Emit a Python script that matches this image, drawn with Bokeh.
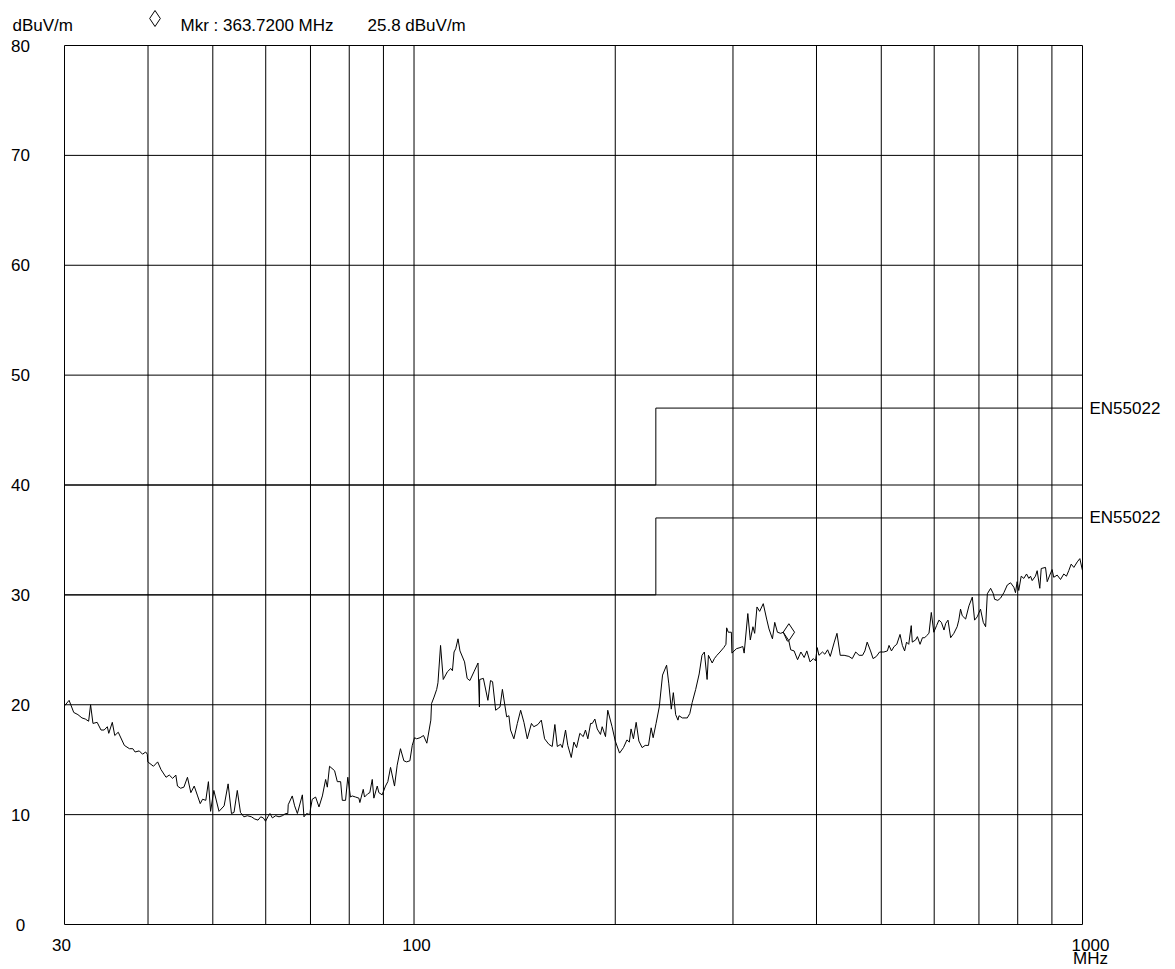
import math
from bokeh.plotting import figure
from bokeh.models import Label, ColumnDataSource
from bokeh.transform import dodge
from bokeh.embed import file_html
from bokeh.resources import INLINE

# ---------------- data ----------------
freq_mhz = [
    30.00, 30.48, 30.97, 31.42, 31.86, 32.23, 32.60, 32.82, 33.09, 33.57,
    34.02, 34.39, 34.77, 34.94, 35.37, 35.67, 36.10, 36.87, 37.52, 37.96,
    38.26, 38.81, 39.25, 39.68, 39.90, 39.97, 40.76, 41.35, 41.83, 42.56,
    43.04, 43.54, 44.02, 44.27, 44.75, 45.26, 45.82, 46.36, 46.90, 47.45,
    47.88, 48.27, 48.81, 49.25, 49.62, 50.18, 51.08, 51.99, 52.71, 53.32,
    53.79, 54.40, 55.00, 55.65, 56.33, 57.12, 57.78, 58.43, 58.97, 59.50,
    59.96, 60.45, 60.88, 61.39, 62.10, 62.81, 63.54, 64.25, 64.74, 64.83,
    65.74, 66.28, 66.91, 68.07, 68.45, 69.07, 69.84, 70.00, 70.43, 71.25,
    72.08, 72.93, 73.75, 74.18, 74.75, 76.06, 76.78, 77.66, 78.11, 78.99,
    79.60, 80.34, 80.82, 81.76, 82.70, 82.98, 83.95, 84.32, 85.27, 85.87,
    86.60, 87.08, 88.10, 88.59, 89.61, 90.64, 91.37, 92.23, 93.50, 94.36,
    95.44, 96.56, 97.47, 98.58, 99.39, 100.18, 100.90, 102.09, 103.32, 104.51,
    105.96, 106.21, 107.15, 108.12, 108.59, 109.57, 110.59, 112.17, 113.48, 114.15,
    114.78, 115.45, 116.36, 117.15, 119.01, 120.08, 121.21, 122.93, 124.66, 125.26,
    125.39, 126.98, 128.97, 130.14, 131.07, 132.47, 134.47, 135.58, 137.58, 138.65,
    139.44, 141.04, 142.74, 144.38, 146.02, 147.71, 149.85, 151.07, 153.21, 155.03,
    156.79, 159.09, 160.97, 162.44, 163.81, 165.68, 166.65, 168.52, 169.83, 171.87,
    173.43, 175.06, 177.04, 179.10, 180.51, 181.97, 183.69, 184.78, 186.43, 187.96,
    190.07, 191.19, 193.38, 194.90, 197.81, 200.00, 202.98, 205.74, 208.21, 209.92,
    211.19, 212.91, 214.93, 216.94, 219.40, 221.70, 224.25, 226.33, 227.88, 230.19,
    232.74, 235.37, 238.69, 240.51, 242.57, 244.29, 246.26, 248.24, 249.10, 252.01,
    256.30, 258.54, 260.67, 263.85, 267.02, 269.62, 271.83, 274.43, 275.68, 279.29,
    281.38, 283.87, 286.91, 290.60, 292.81, 293.55, 295.21, 298.34, 298.89, 303.60,
    307.31, 310.34, 311.80, 315.75, 318.45, 321.37, 323.28, 325.87, 328.88, 332.98,
    336.90, 339.64, 343.69, 346.43, 349.64, 353.57, 356.78, 361.70, 363.72, 366.01,
    370.32, 374.76, 379.08, 383.39, 386.92, 391.24, 395.68, 398.69, 401.02, 403.36,
    408.33, 411.70, 415.64, 419.44, 425.29, 429.24, 434.07, 439.92, 447.23, 452.45,
    457.84, 463.24, 468.79, 472.55, 476.31, 481.86, 486.11, 491.67, 497.06, 504.51,
    510.65, 513.54, 517.87, 522.56, 527.44, 533.39, 537.73, 541.88, 545.49, 549.60,
    554.37, 556.35, 562.90, 566.27, 571.43, 576.19, 580.75, 584.72, 589.29, 594.05,
    599.21, 604.94, 609.87, 615.02, 620.60, 624.25, 629.18, 634.98, 642.06, 649.36,
    653.02, 656.98, 660.93, 668.60, 676.28, 684.19, 689.54, 695.82, 703.75, 710.50,
    716.25, 720.50, 728.75, 735.50, 738.75, 747.00, 753.99, 762.77, 771.81, 780.59,
    789.36, 793.88, 798.40, 802.84, 809.66, 817.05, 824.72, 831.25, 836.08, 840.91,
    850.28, 855.40, 863.25, 867.47, 880.42, 885.54, 893.37, 900.60, 905.70, 916.60,
    927.10, 937.60, 946.20, 953.70, 961.80, 970.60, 982.10, 990.90, 1000.00,
]
level_dbuv = [
    19.9, 20.4, 19.3, 19.1, 18.8, 18.7, 18.5, 20.0, 18.3, 18.4,
    17.7, 17.7, 18.0, 17.4, 18.4, 17.2, 17.5, 16.3, 16.0, 16.0,
    15.7, 15.8, 15.5, 15.7, 15.5, 14.8, 14.4, 14.8, 14.1, 13.4,
    13.6, 13.3, 13.6, 12.6, 12.4, 12.5, 13.4, 12.0, 12.6, 11.7,
    11.0, 11.4, 11.3, 13.0, 10.3, 12.2, 10.3, 10.8, 12.8, 10.1,
    10.2, 12.2, 10.2, 9.8, 9.9, 9.8, 9.6, 9.5, 9.8, 9.7,
    9.4, 9.8, 10.1, 9.7, 9.9, 9.8, 9.9, 10.1, 10.1, 10.9,
    11.7, 10.8, 10.1, 11.8, 9.8, 10.1, 10.0, 10.5, 11.4, 11.6,
    10.7, 11.7, 13.2, 12.5, 14.4, 14.0, 13.0, 13.0, 11.3, 11.3,
    13.4, 11.6, 11.7, 11.6, 11.5, 11.1, 12.3, 11.6, 11.9, 12.0,
    13.2, 11.5, 12.6, 12.0, 11.8, 12.6, 13.0, 14.3, 12.6, 14.5,
    16.0, 14.9, 14.8, 14.9, 16.3, 17.0, 16.9, 17.0, 17.2, 16.5,
    18.6, 20.1, 20.7, 21.4, 22.0, 25.4, 22.3, 23.0, 23.3, 23.1,
    24.8, 25.1, 26.0, 24.9, 23.9, 22.4, 22.2, 23.0, 23.8, 19.8,
    22.3, 22.4, 20.4, 22.2, 22.1, 19.5, 19.8, 21.4, 18.9, 19.0,
    17.7, 16.9, 18.3, 19.5, 18.4, 16.9, 18.3, 18.0, 18.2, 18.6,
    16.9, 16.4, 16.2, 18.2, 16.2, 16.4, 16.1, 17.7, 16.3, 15.2,
    16.6, 16.1, 17.4, 17.1, 17.7, 16.9, 18.3, 18.3, 18.7, 17.8,
    17.3, 18.0, 17.1, 19.5, 18.0, 16.7, 15.6, 16.1, 16.8, 16.6,
    17.8, 16.9, 18.4, 16.7, 16.1, 16.3, 16.3, 17.9, 17.0, 18.3,
    19.8, 22.7, 23.6, 21.9, 19.6, 21.1, 19.1, 18.6, 19.0, 18.8,
    18.8, 19.2, 20.2, 21.4, 22.8, 24.5, 24.8, 22.3, 24.5, 23.8,
    24.2, 24.5, 24.8, 25.2, 25.5, 27.0, 26.6, 26.6, 24.7, 25.1,
    25.2, 25.3, 24.7, 28.3, 25.9, 27.1, 26.5, 28.9, 28.5, 29.2,
    27.8, 26.9, 26.0, 27.5, 26.6, 26.5, 26.6, 25.8, 25.8, 25.0,
    24.9, 24.1, 24.8, 24.3, 24.9, 23.9, 24.2, 24.0, 25.2, 24.5,
    24.8, 24.6, 25.0, 24.4, 25.7, 26.5, 24.5, 24.5, 24.4, 24.2,
    24.8, 24.5, 24.5, 24.9, 25.7, 24.9, 24.2, 24.4, 24.8, 24.8,
    24.9, 25.4, 24.9, 25.3, 25.5, 26.4, 25.4, 24.9, 25.7, 25.5,
    27.2, 25.7, 25.9, 26.2, 25.5, 26.1, 26.1, 26.3, 26.5, 28.4,
    26.6, 27.2, 27.7, 27.5, 26.8, 27.4, 27.7, 26.1, 26.5, 27.1,
    27.7, 28.7, 28.1, 27.8, 29.0, 29.8, 27.7, 28.0, 28.7, 27.5,
    27.1, 30.1, 30.6, 30.1, 29.6, 29.5, 29.7, 30.2, 30.9, 31.1,
    30.7, 30.2, 31.2, 30.4, 31.7, 31.5, 31.9, 31.5, 31.7, 31.3,
    31.7, 32.2, 30.6, 32.4, 32.5, 31.2, 31.8, 32.3, 31.6, 31.8,
    31.4, 31.9, 31.7, 32.2, 32.8, 32.5, 33.0, 33.3, 32.2,
]

limit_freq = [30, 230, 230, 1000]
limit_qp = [30, 30, 37, 37]        # lower EN55022 line
limit_upper = [40, 40, 47, 47]     # upper EN55022 line
limit_name = "EN55022"

marker_freq = [363.72]
marker_level = [25.8]
marker_text = "Mkr : 363.7200 MHz"
marker_level_text = "25.8 dBuV/m"

f_min, f_max = 30, 1000
lvl_min, lvl_max = 0, 80
x_grid = [40, 50, 60, 70, 80, 90, 100, 200, 300, 400, 500, 600, 700, 800, 900]
y_ticks = [0, 10, 20, 30, 40, 50, 60, 70, 80]
y_tick_labels = ["0", "10", "20", "30", "40", "50", "60", "70", "80"]
x_label_ticks = [30, 100, 1000]
x_label_texts = ["30", "100", "1000"]
y_unit = "dBuV/m"
x_unit = "MHz"

# ---------------- layout (pixels) ----------------
W, H = 1170, 968
PL, PR, PT, PB = 64, 1082, 45, 924          # plot box on the canvas
px_dec = (PR - PL) / math.log10(f_max / f_min)
px_unit = (PB - PT) / (lvl_max - lvl_min)
x_start = f_min / 10 ** (PL / px_dec)
x_end = f_max * 10 ** ((W - PR) / px_dec)
y_start = lvl_min - (H - PB) / px_unit
y_end = lvl_max + PT / px_unit

FONT = "Liberation Sans"
FS = "17px"

p = figure(width=W, height=H, x_axis_type="log",
           x_range=(x_start, x_end), y_range=(y_start, y_end),
           output_backend="svg", toolbar_location=None,
           min_border_left=0, min_border_right=0,
           min_border_top=0, min_border_bottom=0)
p.xaxis.visible = False
p.yaxis.visible = False
p.xgrid.visible = False
p.ygrid.visible = False
p.outline_line_color = None
p.background_fill_color = "white"
p.border_fill_color = "white"

# grid
p.segment(x0=x_grid, y0=[lvl_min] * len(x_grid), x1=x_grid,
          y1=[lvl_max] * len(x_grid), line_color="black", line_width=1)
yg = y_ticks[1:-1]
p.segment(x0=[f_min] * len(yg), y0=yg, x1=[f_max] * len(yg), y1=yg,
          line_color="black", line_width=1)
# frame
p.quad(left=[f_min], right=[f_max], bottom=[lvl_min], top=[lvl_max],
       fill_color=None, line_color="black", line_width=1)

# limits and trace
p.line(limit_freq, limit_qp, line_color="black", line_width=1)
p.line(limit_freq, limit_upper, line_color="black", line_width=1)
p.line(freq_mhz, level_dbuv, line_color="black", line_width=1)

# marker symbol on the trace (its lower tip sits on the marker point)
mk_src = ColumnDataSource(dict(x=marker_freq, y=marker_level))
p.scatter(x="x", y=dodge("y", 0.8, range=p.y_range), source=mk_src,
          marker="diamond", size=17, fill_color=None,
          line_color="black", line_width=1)

# legend symbol of the marker in the header line
hdr_x = [x_start * 10 ** (154.5 / px_dec)]
hdr_y = [y_end - 18 / px_unit]
p.scatter(x=hdr_x, y=hdr_y, marker="diamond", size=16, fill_color=None,
          line_color="black", line_width=1)


def lab(x, y, text, xo=0, yo=0, align="left", baseline="alphabetic",
        font=FONT, size=FS):
    p.add_layout(Label(x=x, y=y, x_units="data", y_units="data", text=text,
                       x_offset=xo, y_offset=yo, text_font=font,
                       text_font_size=size, text_align=align,
                       text_baseline=baseline, text_color="black"))


# y tick labels
for v, t in zip(y_ticks, y_tick_labels):
    lab(f_min, v, t, xo=-44, yo=0, align="center", baseline="middle")

# x tick labels
x_off = {30: -3, 100: 2.5, 1000: 8}
for v, t in zip(x_label_ticks, x_label_texts):
    lab(v, lvl_min, t, xo=x_off[v], yo=-20, align="center")
lab(f_max, lvl_min, x_unit, xo=8, yo=-34, align="center")

# header
lab(f_min, lvl_max, y_unit, xo=-52, yo=20)
lab(f_min, lvl_max, marker_text, xo=116, yo=20)
lab(f_min, lvl_max, marker_level_text, xo=303, yo=20)

# limit labels
lab(f_max, limit_upper[-1], limit_name, xo=7, yo=0)
lab(f_max, limit_qp[-1], limit_name, xo=7, yo=0)

open("out.html", "w").write(file_html(p, INLINE))
